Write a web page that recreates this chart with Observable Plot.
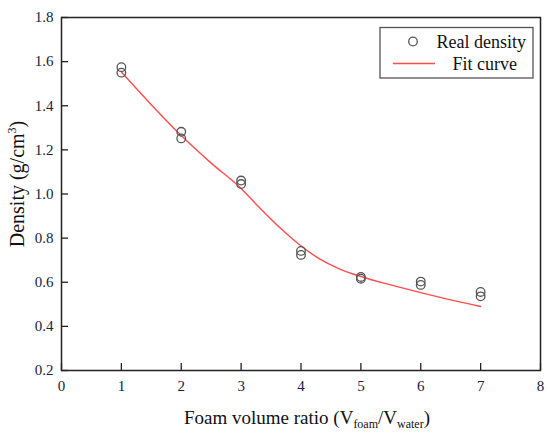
<!DOCTYPE html>
<html>
<head>
<meta charset="utf-8">
<script src="https://cdn.jsdelivr.net/npm/d3@7"></script>
<script src="https://cdn.jsdelivr.net/npm/@observablehq/plot@0.6"></script>
<style>
  html, body { margin: 0; padding: 0; background: #fff; }
  #chart { position: relative; width: 550px; height: 433px; }
  #chart svg, #chart svg text { font-family: "Liberation Serif", "DejaVu Serif", "Times New Roman", serif !important; }
</style>
</head>
<body>
<div id="chart"></div>
<script>
// Measured points (two replicates per ratio)
const ratios = [1, 1, 2, 2, 3, 3, 4, 4, 5, 5, 6, 6, 7, 7];
const densities = [1.575, 1.550, 1.282, 1.252, 1.061, 1.045, 0.742, 0.724, 0.624, 0.616, 0.603, 0.588, 0.556, 0.536];
// Fit curve
const fitX = [1, 1.5, 2, 2.5, 3, 3.3, 3.64, 3.97, 4.31, 4.64, 5, 5.5, 6, 6.5, 7];
const fitY = [1.553, 1.405, 1.265, 1.140, 1.025, 0.940, 0.849, 0.771, 0.706, 0.661, 0.626, 0.588, 0.553, 0.520, 0.490];
const xTicks = [0, 1, 2, 3, 4, 5, 6, 7, 8];
const yTicks = [0.2, 0.4, 0.6, 0.8, 1.0, 1.2, 1.4, 1.6, 1.8];
const legendLabels = ["Real density", "Fit curve"];

const points = ratios.map((r, i) => ({x: r, y: densities[i]}));
const fit = fitX.map((r, i) => ({x: r, y: fitY[i]}));

const tickColor = "#18223c";
const serif = "Liberation Serif";
const chart = Plot.plot({
  width: 550,
  height: 433,
  marginLeft: 61,
  marginRight: 10,
  marginTop: 17,
  marginBottom: 63,
  style: {fontFamily: "'Liberation Serif', serif", fontSize: "15px", background: "#fff"},
  x: {domain: [0, 8], ticks: xTicks},
  y: {domain: [0.2, 1.8], ticks: yTicks},
  marks: [
    Plot.axisX({ticks: xTicks, tickSize: -7, tickPadding: 17, label: null, stroke: "#222", strokeWidth: 1.3, fill: tickColor, fontSize: 15, tickFormat: d3.format("d")}),
    Plot.axisY({ticks: yTicks, tickSize: -7, tickPadding: 15, label: null, stroke: "#222", strokeWidth: 1.3, fill: tickColor, fontSize: 15, tickFormat: d3.format(".1f")}),
    Plot.line(fit, {x: "x", y: "y", stroke: "#ff4d4d", strokeWidth: 1.4, curve: "monotone-x"}),
    Plot.dot(points, {x: "x", y: "y", r: 4.3, stroke: "#555", strokeWidth: 1.3, fill: "none"}),
    Plot.frame({stroke: "#222", strokeWidth: 1.5})
  ]
});
document.getElementById("chart").appendChild(chart);

const svg = d3.select(chart);
// force tick labels (all Plot-generated text) to the serif face and size
svg.selectAll("g").filter(function() { return this.getAttribute("font-size") != null; }).attr("font-size", 15);
svg.selectAll("text").attr("font-size", 15).style("font-size", "15px");

// Y axis title
const yt = svg.append("text")
  .attr("transform", "translate(24,184) rotate(-90)")
  .attr("text-anchor", "middle")
  .style("font-size", "20px")
  .attr("fill", "#111");
yt.append("tspan").text("Density (g/cm");
yt.append("tspan").style("font-size", "12px").attr("dy", -8).text("3");
yt.append("tspan").attr("dy", 8).text(")");

// X axis title
const xt = svg.append("text")
  .attr("x", 307).attr("y", 424)
  .attr("text-anchor", "middle")
  .style("font-size", "19px")
  .attr("fill", "#111");
xt.append("tspan").text("Foam volume ratio (V");
xt.append("tspan").style("font-size", "12px").attr("dy", 4).text("foam");
xt.append("tspan").attr("dy", -4).text("/V");
xt.append("tspan").style("font-size", "12px").attr("dy", 4).text("water");
xt.append("tspan").attr("dy", -4).text(")");

// Legend
const lg = svg.append("g");
lg.append("rect").attr("x", 380).attr("y", 27.5).attr("width", 153).attr("height", 50.5)
  .attr("fill", "#fff").attr("stroke", "#555").attr("stroke-width", 1.3);
lg.append("circle").attr("cx", 413).attr("cy", 41.5).attr("r", 4.3)
  .attr("fill", "none").attr("stroke", "#555").attr("stroke-width", 1.3);
lg.append("line").attr("x1", 393).attr("x2", 435).attr("y1", 63.5).attr("y2", 63.5)
  .attr("stroke", "#ff4d4d").attr("stroke-width", 1.4);
lg.append("text").attr("x", 526).attr("y", 47.5).attr("text-anchor", "end")
  .style("font-size", "18px").attr("fill", "#111").text(legendLabels[0]);
lg.append("text").attr("x", 517).attr("y", 70).attr("text-anchor", "end")
  .style("font-size", "18px").attr("fill", "#111").text(legendLabels[1]);
</script>
</body>
</html>
